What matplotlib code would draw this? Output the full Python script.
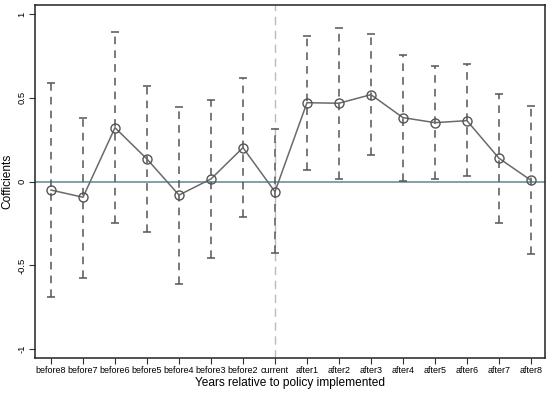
import matplotlib.pyplot as plt

plt.rcParams['font.family'] = ['Liberation Sans', 'DejaVu Sans']

labels = ["before8", "before7", "before6", "before5", "before4", "before3", "before2",
          "current", "after1", "after2", "after3", "after4", "after5", "after6",
          "after7", "after8"]
coef = [-0.05, -0.093, 0.322, 0.135, -0.08, 0.016, 0.203, -0.06,
        0.471, 0.468, 0.519, 0.382, 0.352, 0.364, 0.14, 0.008]
upper = [0.587, 0.38, 0.893, 0.571, 0.447, 0.489, 0.619, 0.313,
         0.871, 0.919, 0.883, 0.758, 0.688, 0.700, 0.525, 0.45]
lower = [-0.686, -0.573, -0.246, -0.298, -0.609, -0.453, -0.211, -0.425,
         0.07, 0.018, 0.159, 0.004, 0.014, 0.032, -0.248, -0.433]

x = list(range(len(labels)))
yerr = [[c - l for c, l in zip(coef, lower)], [u - c for c, u in zip(coef, upper)]]

fig = plt.figure(figsize=(5.5, 3.95), dpi=100)
ax = fig.add_axes([35/550, 37/395, 510/550, 353/395])

ax.axvline(7, color='#bbbbbb', linestyle=(0, (6, 4)), linewidth=1, zorder=1)
ax.axhline(0, color='#6f8f9c', linewidth=1.2, zorder=2)

eb = ax.errorbar(x, coef, yerr=yerr, fmt='none', ecolor='#555555', elinewidth=1.1,
                 capsize=3, capthick=1.1, zorder=3)
eb[2][0].set_linestyle((0, (5, 4)))

ax.plot(x, coef, color='#6a6a6a', linewidth=1.1, marker='o', markersize=6.5,
        markerfacecolor='none', markeredgecolor='#555555', markeredgewidth=1, zorder=4)

ax.set_xlim(-0.5, 15.44)
ax.set_ylim(-1.052, 1.054)
ax.set_xticks(x)
ax.set_xticklabels(labels, fontsize=6.5)
ax.set_yticks([-1, -0.5, 0, 0.5, 1])
ax.set_yticklabels(["-1", "-0.5", "0", "0.5", "1"], fontsize=6.8, rotation=90, va='center')
ax.tick_params(axis='both', length=4, width=0.8, color='#333333', pad=2)
ax.set_xlabel("Years relative to policy implemented", fontsize=8.6, labelpad=1)
ax.set_ylabel("Cofficients", fontsize=8.6, labelpad=3)
for s in ax.spines.values():
    s.set_linewidth(1.1)
    s.set_color('#222222')

fig.savefig("out.png", dpi=100)
